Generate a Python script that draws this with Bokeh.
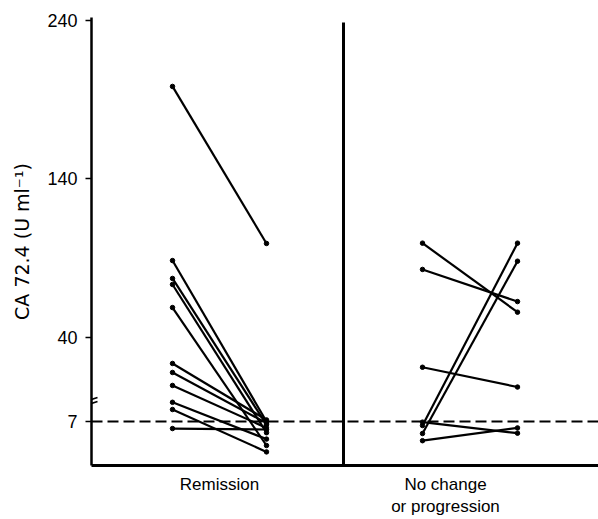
from bokeh.plotting import figure
from bokeh.models import Range1d, FixedTicker, ColumnDataSource, Arrow, Span, LinearAxis
from bokeh.embed import file_html
from bokeh.resources import INLINE

# ---- data (CA 72.4, U/ml) ----
categories = ["Remission", "No change\nor progression"]
remission_before = [198.4, 88.4, 77.1, 73.3, 58.7, 23.4, 17.7, 9.5, 8.2, 7.75, 6.56]
remission_after = [99.2, 7.0, 6.8, 6.3, 5.5, 7.1, 6.9, 6.6, 5.9, 5.1, 6.5]
nochange_before = [99.4, 82.8, 21.0, 6.75, 6.25, 6.96, 5.8]
nochange_after = [55.8, 62.5, 8.5, 99.4, 88.0, 6.27, 6.6]
y_ticks = [7, 40, 140, 240]
cutoff = 7

# ---- broken axis transform (lower and upper segments) ----
BREAK = 8.3
UP_OFF, UP_SCALE = 65.0, 1.583
LO_OFF, LO_SCALE = 44.0, 16.0


def to_d(v):
    if v > BREAK:
        return UP_OFF + UP_SCALE * v
    return LO_OFF + LO_SCALE * (v - 7)


# layout positions (x, screen-like units)
X_REM = (81, 175)
X_NC = (331, 426)
X_DIV = 252
X_LAB = [128, 354]

p = figure(width=598, height=519, output_backend="svg", toolbar_location=None,
           x_range=Range1d(0, 507), y_range=Range1d(0, 448),
           min_border_left=91, min_border_right=0, min_border_top=17,
           min_border_bottom=40, x_axis_location=None)
p.outline_line_color = None
p.xgrid.visible = False
p.ygrid.visible = False
p.background_fill_color = "white"

FONT = "Liberation Sans"

# y axis
p.yaxis.ticker = FixedTicker(ticks=[to_d(t) for t in y_ticks])
p.yaxis.major_label_overrides = {to_d(t): str(t) for t in y_ticks}
p.yaxis.axis_line_width = 2.5
p.yaxis.axis_line_color = "black"
p.yaxis.major_tick_line_width = 1.5
p.yaxis.major_tick_out = 6
p.yaxis.major_tick_in = 0
p.yaxis.minor_tick_line_color = None
p.yaxis.major_label_standoff = 8
p.yaxis.major_label_text_font = FONT
p.yaxis.major_label_text_font_size = "18px"
p.yaxis.major_label_text_color = "black"
p.yaxis.axis_label = "CA 72.4 (U ml\u207b\u00b9)"
p.yaxis.axis_label_text_font = "DejaVu Sans"
p.yaxis.axis_label_text_font_size = "19px"
p.yaxis.axis_label_text_font_style = "normal"
p.yaxis.axis_label_text_color = "black"
p.yaxis.axis_label_standoff = 11

# x axis: baseline + group labels
ax1 = LinearAxis(ticker=FixedTicker(ticks=X_LAB),
                 major_label_overrides={X_LAB[0]: categories[0], X_LAB[1]: categories[1]},
                 axis_line_width=3, axis_line_color="black",
                 major_tick_line_color=None, minor_tick_line_color=None,
                 major_label_standoff=3, major_label_text_font=FONT,
                 major_label_text_font_size="17px", major_label_text_color="black")
p.add_layout(ax1, "below")

# divider between the two groups
p.segment(x0=[X_DIV], y0=[0], x1=[X_DIV], y1=[443], line_color="black", line_width=3)

# cutoff line
p.add_layout(Span(location=to_d(cutoff), dimension="width", line_color="black",
                  line_width=2, line_dash="11 5"))

# axis break marks
for yb in (66, 62):
    p.add_layout(Arrow(end=None, x_start=-6, y_start=yb - 2, x_end=6, y_end=yb + 2,
                       line_color="black", line_width=1.8))


def draw(before, after, xpos):
    xs = [[xpos[0], xpos[1]] for _ in before]
    ys = [[to_d(b), to_d(a)] for b, a in zip(before, after)]
    src = ColumnDataSource(dict(xs=xs, ys=ys))
    p.multi_line("xs", "ys", source=src, line_color="black", line_width=2.2)
    px = [xpos[0]] * len(before) + [xpos[1]] * len(after)
    py = [to_d(v) for v in before] + [to_d(v) for v in after]
    p.scatter(px, py, size=4.5, color="black")


draw(remission_before, remission_after, X_REM)
draw(nochange_before, nochange_after, X_NC)

open("out.html", "w").write(file_html(p, INLINE))
